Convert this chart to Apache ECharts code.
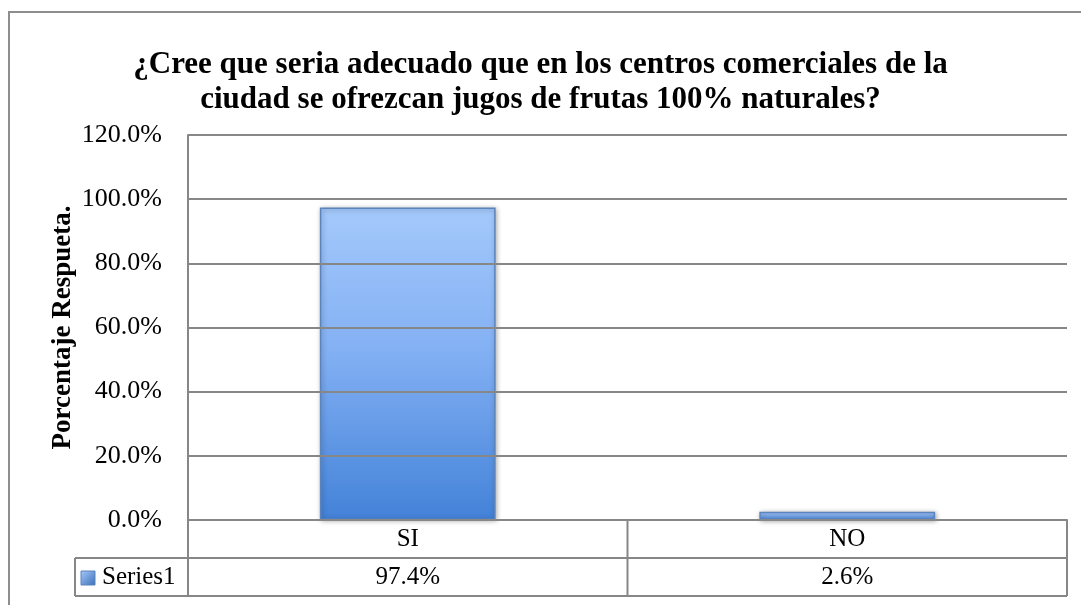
<!DOCTYPE html>
<html>
<head>
<meta charset="utf-8">
<script src="https://cdn.jsdelivr.net/npm/echarts@6/dist/echarts.min.js"></script>
<style>
html,body{margin:0;padding:0;background:#fff;}
#c{width:1081px;height:605px;}
</style>
</head>
<body>
<div id="c"></div>
<script>
var titleText = '¿Cree que seria adecuado que en los centros comerciales de la\nciudad se ofrezcan jugos de frutas 100% naturales?';
var yAxisName = 'Porcentaje Respueta.';
var seriesName = 'Series1';
var categories = ['SI', 'NO'];
var values = [97.4, 2.6];
var yTicks = { min: 0, max: 120, interval: 20 };

var serif = '"Liberation Serif", "DejaVu Serif", serif';
var gridColor = '#878787';
var G = { left: 188, right: 14, top: 135, bottom: 85 };
var W = 1081, H = 605;
var x0 = G.left, x1 = W - G.right, xm = (x0 + x1) / 2;
var yAxisPix = H - G.bottom, row2 = yAxisPix + 38, row3 = row2 + 38;

var barGrad = new echarts.graphic.LinearGradient(0, 0, 0, 1, [
  { offset: 0, color: '#a4c9fb' },
  { offset: 0.45, color: '#84b1f4' },
  { offset: 1, color: '#4382d8' }
]);

var chart = echarts.init(document.getElementById('c'), null, { renderer: 'canvas' });
chart.setOption({
  backgroundColor: '#fff',
  animation: false,
  title: {
    text: titleText,
    left: 'center',
    top: 42,
    textStyle: { fontFamily: serif, fontWeight: 'bold', fontSize: 31, color: '#000', lineHeight: 35 }
  },
  grid: { left: G.left, right: G.right, top: G.top, bottom: G.bottom },
  xAxis: [
    {
      type: 'category',
      data: categories,
      position: 'bottom',
      axisLine: { show: true, lineStyle: { color: gridColor, width: 2 } },
      axisTick: { show: false },
      splitLine: { show: false },
      axisLabel: { fontFamily: serif, fontSize: 25, color: '#000', margin: 7 },
      z: 3
    },
    {
      type: 'category',
      data: categories,
      position: 'bottom',
      offset: 38,
      axisLine: { show: false },
      axisTick: { show: false },
      axisLabel: {
        fontFamily: serif, fontSize: 25, color: '#000', margin: 7,
        formatter: function (v, i) { return values[i].toFixed(1) + '%'; }
      }
    }
  ],
  yAxis: {
    type: 'value',
    min: yTicks.min, max: yTicks.max, interval: yTicks.interval,
    name: yAxisName,
    nameLocation: 'middle',
    nameGap: 111,
    nameMoveOverlap: false,
    nameRotate: 90,
    nameTextStyle: { fontFamily: serif, fontWeight: 'bold', fontSize: 27, color: '#000' },
    axisLine: { show: true, lineStyle: { color: gridColor, width: 2 } },
    axisTick: { show: false },
    splitLine: { show: true, lineStyle: { color: gridColor, width: 2 } },
    axisLabel: {
      fontFamily: serif, fontSize: 26, color: '#000', margin: 26,
      formatter: function (v) { return v.toFixed(1) + '%'; }
    },
    z: 3
  },
  series: [{
    name: seriesName,
    type: 'bar',
    xAxisIndex: 0,
    data: values,
    barWidth: '40%',
    z: 2,
    itemStyle: {
      color: barGrad,
      borderColor: '#5b84bd',
      borderWidth: 1.5,
      shadowColor: 'rgba(0,0,0,0.35)',
      shadowBlur: 5,
      shadowOffsetX: 1,
      shadowOffsetY: 1
    }
  }],
  graphic: [
    { type: 'rect', shape: { x: 9, y: 12, width: W + 10, height: H + 10 }, style: { fill: 'none', stroke: '#8e8e8e', lineWidth: 2 }, z: 10 },
    // data table lines
    { type: 'line', shape: { x1: 75, y1: row2, x2: x1, y2: row2 }, style: { stroke: gridColor, lineWidth: 2 }, z: 10 },
    { type: 'line', shape: { x1: 75, y1: row3, x2: x1, y2: row3 }, style: { stroke: gridColor, lineWidth: 2 }, z: 10 },
    { type: 'line', shape: { x1: 75, y1: row2, x2: 75, y2: row3 }, style: { stroke: gridColor, lineWidth: 2 }, z: 10 },
    { type: 'line', shape: { x1: x0, y1: yAxisPix, x2: x0, y2: row3 }, style: { stroke: gridColor, lineWidth: 2 }, z: 10 },
    { type: 'line', shape: { x1: xm, y1: yAxisPix, x2: xm, y2: row3 }, style: { stroke: gridColor, lineWidth: 2 }, z: 10 },
    { type: 'line', shape: { x1: x1, y1: yAxisPix, x2: x1, y2: row3 }, style: { stroke: gridColor, lineWidth: 2 }, z: 10 },
    // legend key
    { type: 'rect', shape: { x: 81, y: 571, width: 14, height: 14 },
      style: { fill: new echarts.graphic.LinearGradient(0, 0, 1, 1, [{ offset: 0, color: '#a6cafa' }, { offset: 1, color: '#3a6fb8' }]), stroke: '#5b84bd', lineWidth: 1 }, z: 10 },
    { type: 'text', x: 102, y: row2 + 19, style: { text: seriesName, fontFamily: serif, fontSize: 25, fill: '#000', verticalAlign: 'middle', align: 'left' }, z: 10 }
  ]
});
</script>
</body>
</html>
